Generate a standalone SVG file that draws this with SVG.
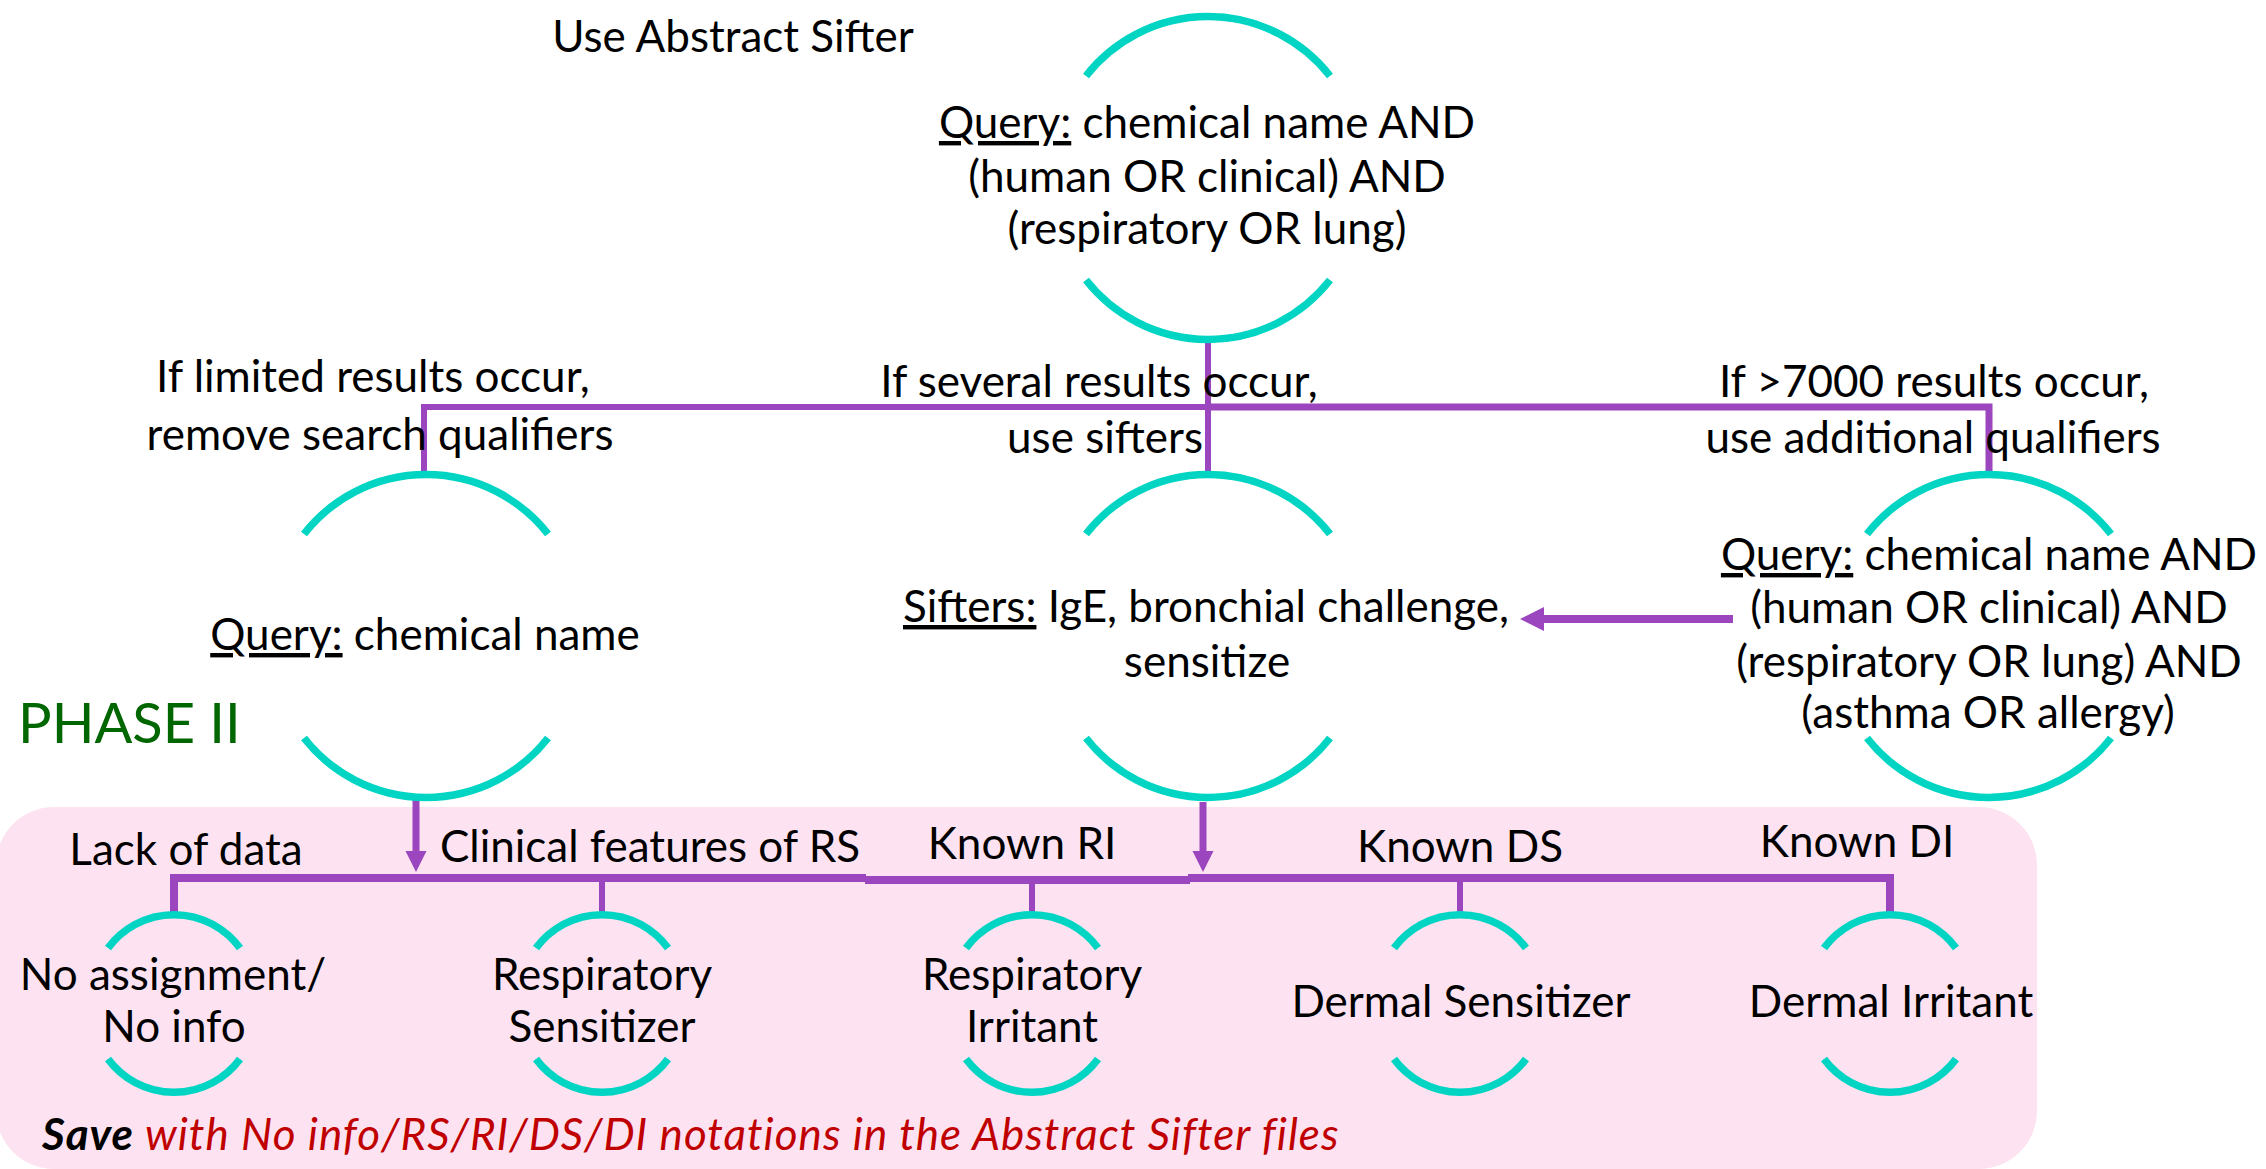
<svg xmlns="http://www.w3.org/2000/svg" xmlns:xlink="http://www.w3.org/1999/xlink" width="2266" height="1169" viewBox="0 0 2266 1169">
<style>
text{font-family:Lato,"Open Sans","Liberation Sans",sans-serif;font-size:44px;fill:#000;text-anchor:middle}
.arc{fill:none;stroke:#00d5c3;stroke-width:7.5}
.con{fill:none;stroke:#9b45be;stroke-linejoin:miter}
.u{text-decoration:underline}
.phase{font-size:56px;fill:#006600;text-anchor:start}
.save{text-anchor:start;font-style:italic;letter-spacing:1px}
</style>
<defs>
<path id="bt" class="arc" d="M -122 0 A 155 155 0 0 1 122 0"/>
<path id="bb" class="arc" d="M -122 0 A 155 155 0 0 0 122 0"/>
<path id="st" class="arc" d="M -66 0 A 82 82 0 0 1 66 0"/>
<path id="sb" class="arc" d="M -66 0 A 82 82 0 0 0 66 0"/>
<marker id="ah" viewBox="0 0 10 10" refX="0" refY="5" markerWidth="3" markerHeight="3.2" orient="auto" markerUnits="strokeWidth">
<path d="M0 0 L10 5 L0 10 Z" fill="#9b45be"/>
</marker>
</defs>
<rect id="phase2-bg" x="-4" y="807" width="2041" height="362" rx="58" ry="58" fill="#fde3f1"/>
<text x="733" y="52">Use Abstract Sifter</text>
<text class="phase" x="18" y="743">PHASE II</text>
<g id="connectors">
<path class="con" stroke-width="6" d="M1208 340 V472"/>
<path class="con" stroke-width="6" d="M424 472 V407 H1208"/>
<path class="con" stroke-width="7" d="M1208 407 H1989 V472"/>
<path class="con" stroke-width="8" d="M1733 619 H1544" marker-end="url(#ah)"/>
<path class="con" stroke-width="7" d="M416 800 V851" marker-end="url(#ah)"/>
<path class="con" stroke-width="7" d="M1203 802 V851" marker-end="url(#ah)"/>
<path class="con" stroke-width="8" d="M174 912 V878 H866"/>
<path class="con" stroke-width="8" d="M865 880 H1190"/>
<path class="con" stroke-width="8" d="M1188 878 H1890 V912"/>
<path class="con" stroke-width="6" d="M602 878 V912"/>
<path class="con" stroke-width="6" d="M1032 884 V912"/>
<path class="con" stroke-width="6" d="M1460 878 V912"/>
</g>
<g id="labels">
<text x="373" y="392">If limited results occur,</text>
<text x="380" y="450">remove search qualifiers</text>
<text x="1099" y="397">If several results occur,</text>
<text x="1105" y="453">use sifters</text>
<text x="1934" y="397">If &gt;7000 results occur,</text>
<text x="1933" y="453">use additional qualifiers</text>
<text x="186" y="865">Lack of data</text>
<text x="650" y="862">Clinical features of RS</text>
<text x="1022" y="859">Known RI</text>
<text x="1460" y="862">Known DS</text>
<text x="1857" y="857">Known DI</text>
</g>
<g id="node-top">
<use href="#bt" transform="translate(1208,76)"/>
<use href="#bb" transform="translate(1208,280)"/>
<text x="1207" y="138"><tspan class="u">Query:</tspan> chemical name AND</text>
<text x="1207" y="192">(human OR clinical) AND</text>
<text x="1207" y="244">(respiratory OR lung)</text>
</g>
<g id="node-query-name">
<use href="#bt" transform="translate(426,534)"/>
<use href="#bb" transform="translate(426,738)"/>
<text x="425" y="650"><tspan class="u">Query:</tspan> chemical name</text>
</g>
<g id="node-sifters">
<use href="#bt" transform="translate(1208,534)"/>
<use href="#bb" transform="translate(1208,738)"/>
<text x="1206" y="622"><tspan class="u">Sifters:</tspan> IgE, bronchial challenge,</text>
<text x="1207" y="677">sensitize</text>
</g>
<g id="node-query-extended">
<use href="#bt" transform="translate(1989,534)"/>
<use href="#bb" transform="translate(1989,738)"/>
<text x="1989" y="570"><tspan class="u">Query:</tspan> chemical name AND</text>
<text x="1989" y="623">(human OR clinical) AND</text>
<text x="1989" y="677">(respiratory OR lung) AND</text>
<text x="1988" y="728">(asthma OR allergy)</text>
</g>
<g id="node-no-info">
<use href="#st" transform="translate(174,948)"/>
<use href="#sb" transform="translate(174,1059)"/>
<text x="173" y="990">No assignment/</text>
<text x="174" y="1042">No info</text>
</g>
<g id="node-rs">
<use href="#st" transform="translate(602,948)"/>
<use href="#sb" transform="translate(602,1059)"/>
<text x="602" y="990">Respiratory</text>
<text x="602" y="1042">Sensitizer</text>
</g>
<g id="node-ri">
<use href="#st" transform="translate(1032,948)"/>
<use href="#sb" transform="translate(1032,1059)"/>
<text x="1032" y="990">Respiratory</text>
<text x="1032" y="1042">Irritant</text>
</g>
<g id="node-ds">
<use href="#st" transform="translate(1460,948)"/>
<use href="#sb" transform="translate(1460,1059)"/>
<text x="1461" y="1017">Dermal Sensitizer</text>
</g>
<g id="node-di">
<use href="#st" transform="translate(1890,948)"/>
<use href="#sb" transform="translate(1890,1059)"/>
<text x="1891" y="1017">Dermal Irritant</text>
</g>
<text class="save" x="42" y="1150"><tspan font-weight="bold">Save</tspan><tspan fill="#c00000"> with No info/RS/RI/DS/DI notations in the Abstract Sifter files</tspan></text>
</svg>
